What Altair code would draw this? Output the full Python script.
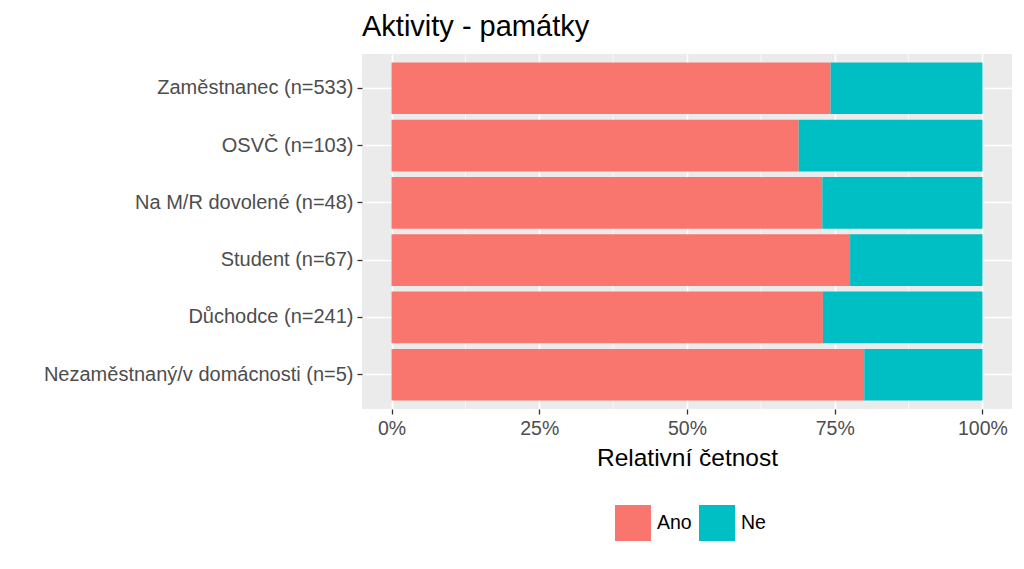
import altair as alt
import pandas as pd

categories = [
    "Zaměstnanec (n=533)",
    "OSVČ (n=103)",
    "Na M/R dovolené (n=48)",
    "Student (n=67)",
    "Důchodce (n=241)",
    "Nezaměstnaný/v domácnosti (n=5)",
]
ano_share = [0.743, 0.689, 0.729, 0.776, 0.730, 0.800]
ne_share = [round(1 - v, 3) for v in ano_share]
answers = ["Ano", "Ne"]
colors = ["#F8766D", "#00BFC4"]
major_ticks = [0, 0.25, 0.5, 0.75, 1.0]
minor_grid = [0.125, 0.375, 0.625, 0.875]

rows = []
for c, a, n in zip(categories, ano_share, ne_share):
    rows.append({"kat": c, "odp": "Ano", "hodnota": a, "poradi": 0})
    rows.append({"kat": c, "odp": "Ne", "hodnota": n, "poradi": 1})
df = pd.DataFrame(rows)
minor_df = pd.DataFrame({"g": minor_grid})

FONT = "Liberation Sans"
xscale = alt.Scale(domain=[-0.05, 1.05], nice=False, zero=False)

minor = alt.Chart(minor_df).mark_rule(color="white", strokeWidth=0.7).encode(
    x=alt.X("g:Q", scale=xscale)
)

bars = alt.Chart(df).mark_bar().encode(
    y=alt.Y(
        "kat:N",
        sort=categories,
        scale=alt.Scale(paddingInner=0.1, paddingOuter=0.15),
        axis=alt.Axis(
            title=None,
            domain=False,
            ticks=True,
            tickSize=5,
            tickColor="#333333",
            tickWidth=1.3,
            labelColor="#4D4D4D",
            labelFontSize=20,
            labelFont=FONT,
            labelPadding=4,
            grid=True,
            gridColor="white",
            gridWidth=1.6,
            bandPosition=0.5,
            labelLimit=500,
        ),
    ),
    x=alt.X(
        "hodnota:Q",
        stack="zero",
        scale=xscale,
        axis=alt.Axis(
            title="Relativní četnost",
            titleFont=FONT,
            titleFontSize=24.5,
            titleFontWeight="normal",
            titleColor="black",
            titlePadding=9,
            values=major_ticks,
            format=".0%",
            domain=False,
            ticks=True,
            tickSize=5,
            tickColor="#333333",
            tickWidth=1.3,
            labelColor="#4D4D4D",
            labelFontSize=19.5,
            labelFont=FONT,
            labelPadding=5,
            grid=True,
            gridColor="white",
            gridWidth=1.6,
        ),
    ),
    color=alt.Color(
        "odp:N",
        scale=alt.Scale(domain=answers, range=colors),
        legend=alt.Legend(
            title=None,
            orient="none",
            legendX=253,
            legendY=451,
            direction="horizontal",
            symbolType="square",
            symbolSize=1296,
            symbolStrokeWidth=0,
            symbolOpacity=1,
            labelFont=FONT,
            labelFontSize=19.5,
            labelColor="black",
            labelOffset=6,
            columnPadding=7,
        ),
    ),
    order=alt.Order("poradi:Q"),
)

chart = (
    alt.layer(minor, bars)
    .properties(
        width=650,
        height=355,
        autosize=alt.AutoSizeParams(type="none"),
        padding={"left": 354, "top": 46, "right": 4, "bottom": 140},
        title=alt.TitleParams(
            "Aktivity - památky",
            anchor="start",
            frame="group",
            align="left",
            font=FONT,
            fontSize=29,
            fontWeight="normal",
            color="black",
            offset=12,
        ),
    )
    .configure(
        background="white",
        view=alt.ViewConfig(fill="#EBEBEB", stroke=None),
    )
)

chart.save("out.html", embed_options={"renderer": "svg", "actions": False})
